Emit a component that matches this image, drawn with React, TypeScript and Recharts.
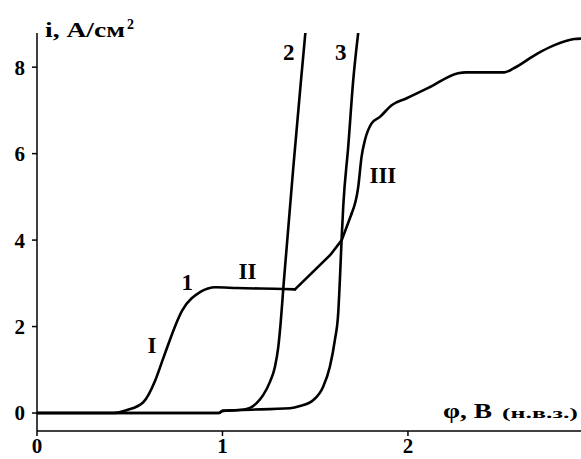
import { LineChart, Line, XAxis, YAxis, ReferenceDot } from "recharts";

// curve 1 (branches I, II, III)
const mainX = [0, 0.41, 0.486, 0.573, 0.638, 0.681, 0.784, 0.881, 0.962, 1.08, 1.33, 1.391, 1.58, 1.643, 1.697, 1.732, 1.75, 1.768, 1.804, 1.849, 1.912, 1.993, 2.119, 2.27, 2.314, 2.52, 2.573, 2.7, 2.79, 2.897, 2.93];
const mainY = [0, 0, 0.07, 0.25, 0.76, 1.27, 2.38, 2.8, 2.91, 2.89, 2.87, 2.86, 3.65, 4.0, 4.62, 5.23, 5.93, 6.31, 6.7, 6.85, 7.12, 7.28, 7.54, 7.86, 7.88, 7.88, 7.98, 8.32, 8.51, 8.65, 8.66];
// x where branch II ends and where branch III begins its steep rise
const bendII = 1.391;
const bendIII = 1.697;

// curve 2
const curve2X = [0, 0.98, 1.0, 1.094, 1.148, 1.184, 1.22, 1.256, 1.283, 1.301, 1.314, 1.33, 1.382, 1.422, 1.447];
const curve2Y = [0, 0, 0.05, 0.07, 0.12, 0.23, 0.42, 0.72, 1.07, 1.53, 2.1, 3.0, 5.69, 7.63, 8.8];

// curve 3
const curve3X = [0, 0.98, 1.0, 1.094, 1.364, 1.418, 1.49, 1.543, 1.579, 1.606, 1.624, 1.633, 1.643, 1.651, 1.678, 1.705, 1.732];
const curve3Y = [0, 0, 0.05, 0.07, 0.11, 0.16, 0.3, 0.61, 1.07, 1.69, 2.31, 3.08, 4.08, 4.77, 6.16, 7.7, 8.8];

const xTicks = [0, 1, 2];
const yTicks = [0, 2, 4, 6, 8];

const curveLabels = [
    { text: "2", x: 1.357, y: 8.35 },
    { text: "3", x: 1.638, y: 8.35 },
    { text: "III", x: 1.865, y: 5.5 },
    { text: "II", x: 1.135, y: 3.28 },
    { text: "1", x: 0.81, y: 3.03 },
    { text: "I", x: 0.62, y: 1.57 },
];

const toPoints = (xs: number[], ys: number[]) => xs.map((x, i) => ({ x, y: ys[i] }));

const FONT = "'Liberation Serif', 'Times New Roman', serif";

const App = () => {
    const mainData = toPoints(mainX, mainY);
    const segA = mainData.filter((p) => p.x <= bendII);
    const segB = mainData.filter((p) => p.x >= bendII && p.x <= bendIII);
    const segC = mainData.filter((p) => p.x >= bendIII);
    const data2 = toPoints(curve2X, curve2Y);
    const data3 = toPoints(curve3X, curve3Y);

    const tickStyle = { fill: "#000", fontSize: 21, fontWeight: "bold", fontFamily: FONT };
    const lineProps = {
        dataKey: "y",
        stroke: "#000",
        strokeWidth: 2.6,
        dot: false,
        isAnimationActive: false,
    };

    return (
        <div style={{ width: 581, height: 459, background: "#fff" }}>
            <style>{"body{margin:0}"}</style>
            <LineChart
                width={581}
                height={459}
                margin={{ top: 33, right: 0, left: 0, bottom: 0 }}
            >
                <XAxis
                    type="number"
                    dataKey="x"
                    domain={[0, 2.933]}
                    ticks={xTicks}
                    allowDataOverflow
                    height={28}
                    tickSize={5}
                    tickMargin={2}
                    axisLine={{ stroke: "#000", strokeWidth: 1.5 }}
                    tickLine={{ stroke: "#000", strokeWidth: 1.5 }}
                    tick={tickStyle}
                />
                <YAxis
                    type="number"
                    dataKey="y"
                    domain={[-0.416, 8.79]}
                    ticks={yTicks}
                    allowDataOverflow
                    width={37}
                    tickSize={5}
                    tickMargin={7}
                    axisLine={{ stroke: "#000", strokeWidth: 1.5 }}
                    tickLine={{ stroke: "#000", strokeWidth: 1.5 }}
                    tick={tickStyle}
                />

                {/* curve 1: smooth I/II, straight rise to III, then smooth */}
                <Line data={segA} type="monotone" strokeLinecap="round" {...lineProps} />
                <Line data={segB} type="linear" strokeLinecap="round" {...lineProps} />
                <Line data={segC} type="monotone" strokeLinecap="round" {...lineProps} />

                <Line data={data2} type="monotone" {...lineProps} />
                <Line data={data3} type="monotone" {...lineProps} />

                {curveLabels.map((l) => (
                    <ReferenceDot
                        key={l.text}
                        x={l.x}
                        y={l.y}
                        r={0}
                        fill="none"
                        stroke="none"
                        label={{
                            value: l.text,
                            position: "center",
                            fill: "#000",
                            fontSize: 23,
                            fontWeight: "bold",
                            fontFamily: FONT,
                        }}
                    />
                ))}

                {/* axis titles */}
                <text x={45} y={37} fill="#000" fontSize={20} fontWeight="bold" fontFamily={FONT}
                    textLength={80} lengthAdjust="spacingAndGlyphs">
                    i, А/см
                </text>
                <text x={127} y={29} fill="#000" fontSize={14} fontWeight="bold" fontFamily={FONT}>
                    2
                </text>
                <text x={443} y={418} fill="#000" fontSize={20} fontWeight="bold" fontFamily={FONT}
                    textLength={49} lengthAdjust="spacingAndGlyphs">
                    φ, В
                </text>
                <text x={502} y={418} fill="#000" fontSize={15} fontWeight="bold" fontFamily={FONT}
                    textLength={76} lengthAdjust="spacingAndGlyphs">
                    (н.в.з.)
                </text>
            </LineChart>
        </div>
    );
};

export default App;
